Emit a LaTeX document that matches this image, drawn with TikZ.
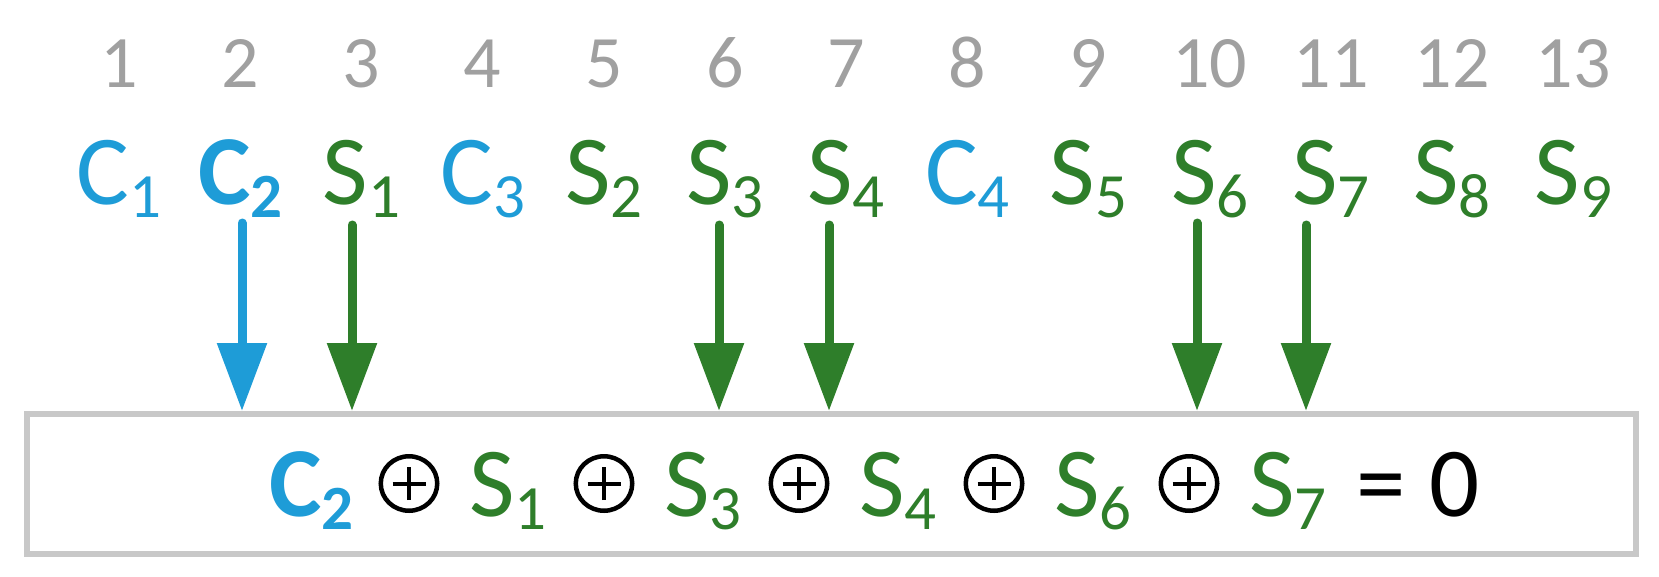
\documentclass[tikz,border=0pt]{standalone}
\usepackage{fontspec}
\setmainfont{Carlito}
\usetikzlibrary{arrows.meta,shapes.geometric}
\definecolor{cblue}{RGB}{30,156,215}
\definecolor{sgreen}{RGB}{46,126,42}
\definecolor{numgray}{RGB}{160,160,160}
\definecolor{boxgray}{RGB}{200,200,200}
\newcommand{\lab}[2]{\fontsize{99}{99}\selectfont #1\raisebox{-13pt}{\fontsize{63}{63}\selectfont #2}}
\begin{document}
\begin{tikzpicture}[x=1pt,y=-1pt,
  num/.style={text=numgray,font=\fontsize{74}{74}\selectfont,anchor=base,inner sep=0},
  lbl/.style={anchor=base,inner sep=0},
  cl/.style={lbl,text=cblue},
  sl/.style={lbl,text=sgreen},
  term/.style={anchor=base west,inner sep=0},
  oplus/.style={ellipse,draw=black,line width=4.5pt,minimum width=56.5pt,minimum height=54.5pt,inner sep=0,
    path picture={\draw[line width=4pt] ([xshift=-16.5pt]path picture bounding box.center) -- ([xshift=16.5pt]path picture bounding box.center) ([yshift=-16.5pt]path picture bounding box.center) -- ([yshift=16.5pt]path picture bounding box.center);}},
  arr/.style={line width=9pt,line cap=round,-{Triangle[length=68pt,width=48pt]}},
  eqbox/.style={draw=boxgray,line width=6pt,minimum width=1609pt,minimum height=140pt,inner sep=0}
]
\useasboundingbox (0,0) rectangle (1659,576);
% column numbers
\foreach \n in {1,...,13}
  \node[num] (n\n) at ({119+(\n-1)*121.2},87) {\n};
% labels
\node[cl] (l1) at (119,204) {\lab{C}{1}};
\node[cl] (l2) at (240.2,204) {\lab{\textbf{C}}{\textbf{2}}};
\node[sl] (l3) at (361.4,204) {\lab{S}{1}};
\node[cl] (l4) at (482.6,204) {\lab{C}{3}};
\node[sl] (l5) at (603.8,204) {\lab{S}{2}};
\node[sl] (l6) at (725,204) {\lab{S}{3}};
\node[sl] (l7) at (846.2,204) {\lab{S}{4}};
\node[cl] (l8) at (967.4,204) {\lab{C}{4}};
\node[sl] (l9) at (1088.6,204) {\lab{S}{5}};
\node[sl] (l10) at (1209.8,204) {\lab{S}{6}};
\node[sl] (l11) at (1331,204) {\lab{S}{7}};
\node[sl] (l12) at (1452.2,204) {\lab{S}{8}};
\node[sl] (l13) at (1573.4,204) {\lab{S}{9}};
% equation box
\node[eqbox] (box) at (831.5,484) {};
\node[term,text=cblue] (e1) at (269,516) {\lab{\textbf{C}}{\textbf{2}}};
\node[oplus] (o1) at (409,483.5) {};
\node[term,text=sgreen] (e2) at (469,516) {\lab{S}{1}};
\node[oplus] (o2) at (604,483.5) {};
\node[term,text=sgreen] (e3) at (664,516) {\lab{S}{3}};
\node[oplus] (o3) at (799,483.5) {};
\node[term,text=sgreen] (e4) at (859,516) {\lab{S}{4}};
\node[oplus] (o4) at (994,483.5) {};
\node[term,text=sgreen] (e5) at (1054,516) {\lab{S}{6}};
\node[oplus] (o5) at (1189,483.5) {};
\node[term,text=sgreen] (e6) at (1249,516) {\lab{S}{7}};
\node[anchor=base,inner sep=0] (eq) at (1381,516) {\fontsize{99}{99}\selectfont =};
\node[anchor=base,inner sep=0] (zero) at (1455,516) {\fontsize{99}{99}\selectfont 0};
% arrows
\coordinate (a1) at (242,223);
\coordinate (a2) at (352,225);
\coordinate (a3) at (719,225);
\coordinate (a4) at (829,225);
\coordinate (a5) at (1197,223);
\coordinate (a6) at (1306,225);
\draw[arr,cblue] (a1) -- (a1 |- box.north);
\draw[arr,sgreen] (a2) -- (a2 |- box.north);
\draw[arr,sgreen] (a3) -- (a3 |- box.north);
\draw[arr,sgreen] (a4) -- (a4 |- box.north);
\draw[arr,sgreen] (a5) -- (a5 |- box.north);
\draw[arr,sgreen] (a6) -- (a6 |- box.north);
\end{tikzpicture}
\end{document}
